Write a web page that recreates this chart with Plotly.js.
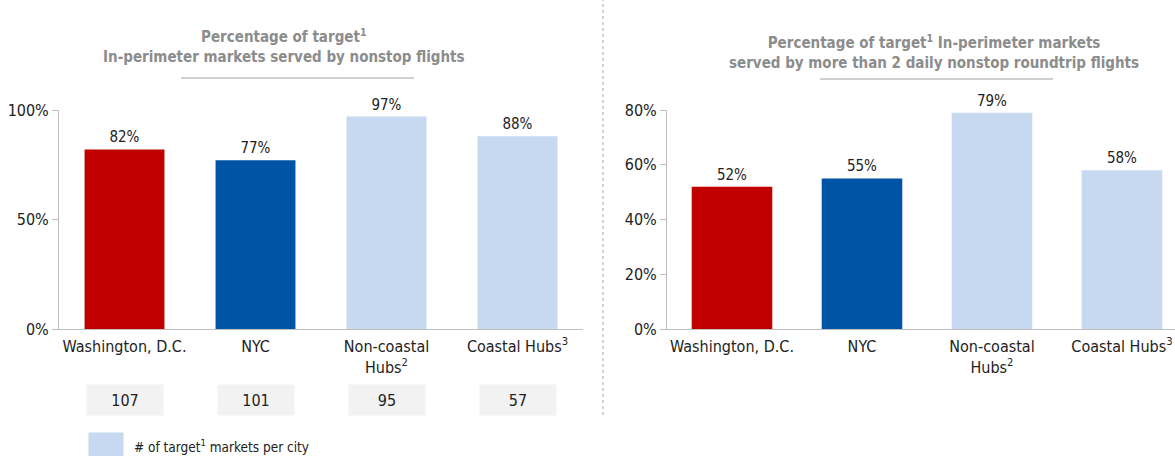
<!DOCTYPE html>
<html>
<head>
<meta charset="utf-8">
<script src="https://cdn.plot.ly/plotly-3.0.1.min.js"></script>
<style>html,body{margin:0;padding:0;background:#fff;}#chart{width:1175px;height:456px;}</style>
</head>
<body>
<div id="chart"></div>
<script>
const categories = ["Washington, D.C.", "NYC", "Non-coastal<br>Hubs<sup>2</sup>", "Coastal Hubs<sup>3</sup>"];
const nonstopPct = [82, 77, 97, 88];
const dailyPct = [52, 55, 79, 58];
const marketCounts = [107, 101, 95, 57];
const leftTicks = [0, 50, 100];
const rightTicks = [0, 20, 40, 60, 80];
const barColors = ["#C00000", "#0054A6", "#C6D9F0", "#C6D9F0"];
const leftTitle = "Percentage of target<sup>1</sup><br>In-perimeter markets served by nonstop flights";
const rightTitle = "Percentage of target<sup>1</sup> In-perimeter markets<br>served by more than 2 daily nonstop roundtrip flights";
const legendText = "# of target<sup>1</sup> markets per city";

const FONT = "'DejaVu Sans Condensed', 'DejaVu Sans', sans-serif";
const W = 1175, H = 456;
const yBot = 1 - 329 / H, yTop = 1 - 110 / H;

const traces = [
  {
    type: "bar", x: categories, y: nonstopPct, xaxis: "x", yaxis: "y",
    marker: {color: barColors}, width: 0.61,
    text: nonstopPct.map(v => v + "%"), textposition: "outside",
    textfont: {family: FONT, size: 15, color: "#222"}, cliponaxis: false, hoverinfo: "skip"
  },
  {
    type: "bar", x: categories, y: dailyPct, xaxis: "x2", yaxis: "y2",
    marker: {color: barColors}, width: 0.62,
    text: dailyPct.map(v => v + "%"), textposition: "outside",
    textfont: {family: FONT, size: 15, color: "#222"}, cliponaxis: false, hoverinfo: "skip"
  }
];

const axisCommon = {
  showgrid: false, zeroline: false, showline: true, linecolor: "#BFBFBF", linewidth: 1,
  tickfont: {family: FONT, size: 16, color: "#222"}, fixedrange: true
};

const annotations = [];
// titles
annotations.push({xref: "paper", yref: "paper", x: 284 / W, y: 1 - 46 / H, text: leftTitle, showarrow: false,
  font: {family: FONT, size: 15, color: "#8C8C8C", weight: "bold"}, align: "center", xanchor: "center", yanchor: "middle"});
annotations.push({xref: "paper", yref: "paper", x: 934 / W, y: 1 - 52 / H, text: rightTitle, showarrow: false,
  font: {family: FONT, size: 15, color: "#8C8C8C", weight: "bold"}, align: "center", xanchor: "center", yanchor: "middle"});
// market count boxes
categories.forEach((c, i) => {
  annotations.push({xref: "x", yref: "paper", x: c, y: 1 - 400 / H, text: String(marketCounts[i]), showarrow: false,
    font: {family: FONT, size: 16, color: "#222"}, bgcolor: "#F2F2F2", width: 72, height: 26,
    xanchor: "center", yanchor: "middle", borderpad: 2});
});
// legend
annotations.push({xref: "paper", yref: "paper", x: 88 / W, y: 1 - 445 / H, text: "", showarrow: false,
  bgcolor: "#C6D9F0", width: 30, height: 20, xanchor: "left", yanchor: "middle", borderpad: 2});
annotations.push({xref: "paper", yref: "paper", x: 132 / W, y: 1 - 446 / H, text: legendText, showarrow: false,
  font: {family: FONT, size: 13.5, color: "#222"}, xanchor: "left", yanchor: "middle"});

const shapes = [
  {type: "line", xref: "paper", yref: "paper", x0: 181 / W, x1: 414 / W, y0: 1 - 78 / H, y1: 1 - 78 / H,
    line: {color: "#BFBFBF", width: 1.5}},
  {type: "line", xref: "paper", yref: "paper", x0: 820 / W, x1: 1053 / W, y0: 1 - 79 / H, y1: 1 - 79 / H,
    line: {color: "#BFBFBF", width: 1.5}},
  {type: "line", xref: "paper", yref: "paper", x0: 603 / W, x1: 603 / W, y0: 1 - 415 / H, y1: 1,
    line: {color: "#A6A6A6", width: 1, dash: "dot"}}
];

const layout = {
  width: W, height: H, margin: {l: 0, r: 0, t: 0, b: 0},
  paper_bgcolor: "#fff", plot_bgcolor: "#fff", showlegend: false, bargap: 0.39,
  xaxis: Object.assign({}, axisCommon, {domain: [59 / W, 583 / W], range: [-0.5, 3.5], anchor: "y", ticks: "",
    type: "category", ticklabelstandoff: 3}),
  yaxis: Object.assign({}, axisCommon, {domain: [yBot, yTop], range: [0, 100], anchor: "x",
    tickmode: "array", tickvals: leftTicks, ticktext: leftTicks.map(v => v + "%"),
    ticks: "outside", ticklen: 6, tickcolor: "#BFBFBF"}),
  xaxis2: Object.assign({}, axisCommon, {domain: [667 / W, 1], range: [-0.5, 3.408], anchor: "y2", ticks: "",
    type: "category", ticklabelstandoff: 3}),
  yaxis2: Object.assign({}, axisCommon, {domain: [yBot, yTop], range: [0, 80], anchor: "x2",
    tickmode: "array", tickvals: rightTicks, ticktext: rightTicks.map(v => v + "%"),
    ticks: "outside", ticklen: 6, tickcolor: "#BFBFBF"}),
  annotations: annotations, shapes: shapes,
  font: {family: FONT}
};

Plotly.newPlot("chart", traces, layout, {displayModeBar: false, staticPlot: true});
</script>
</body>
</html>
